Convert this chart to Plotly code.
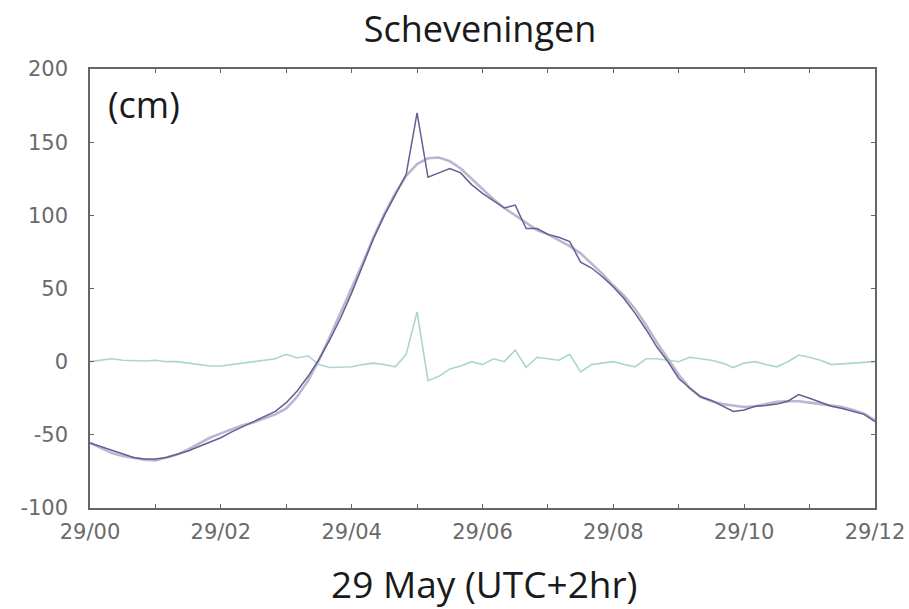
import plotly.graph_objects as go

# time in hours after 29 May 00:00 (10-minute steps)
hours = [k / 6 for k in range(73)]

observed = [-55.5, -58, -61, -63.5, -65.5, -66.5, -66.5, -65.5, -63.5, -61,
            -58, -55, -52, -48, -44.5, -41.5, -38, -34, -28, -20,
            -10, 1.5, 15, 30, 47, 65, 84, 100, 114, 128,
            170, 126, 129, 132, 129, 121, 115, 110, 105, 107,
            91, 91, 87, 85, 82, 68, 64, 58, 51, 43,
            33, 22, 10, 0, -11.5, -18, -24, -26.5, -30, -34,
            -33, -30.5, -30, -29, -27, -22.5, -25, -28, -30.5, -32,
            -34, -36, -41]

predicted = [-55.5, -59, -62.5, -64.5, -66, -67, -67.5, -65.5, -63.5, -60,
             -56, -52, -49, -46, -43.5, -41.5, -39, -36, -32, -24,
             -13, 1, 17, 33.5, 50.5, 67, 85, 101, 115, 127,
             135, 139, 139.5, 137, 132, 125, 118, 111, 105, 100,
             95, 90, 87, 83, 79, 74, 67, 60, 52, 45,
             36, 25, 13, 2, -9, -18, -24, -27, -29, -30,
             -31, -30.5, -29, -27.5, -27, -27, -28, -29, -29.5, -31,
             -33, -35.5, -40]

residual = [0, 1, 2, 1, 0.5, 0.5, 1, 0, 0, -1,
            -2, -3, -3, -2, -1, 0, 1, 2, 5, 2.5,
            4, -2, -4, -3.5, -3.5, -2, -1, -2, -3.5, 5,
            34, -13, -10, -5, -3, 0, -2, 2, 0, 8,
            -4, 3, 2, 1, 5, -7, -2, -1, 0, -2,
            -3.5, 2, 2, 1, 0, 3, 2, 1, -1, -4,
            -1, 0, -2, -3.5, 0, 4.5, 3, 1, -2, -1.5,
            -1, 0, 0]

tick_hours = [0, 2, 4, 6, 8, 10, 12]
tick_labels = ["29/00", "29/02", "29/04", "29/06", "29/08", "29/10", "29/12"]
y_ticks = [-100, -50, 0, 50, 100, 150, 200]
y_labels = ["-100", "-50", "0", "50", "100", "150", "200"]

fig = go.Figure()
fig.add_trace(go.Scatter(x=hours, y=residual, mode="lines",
                         line=dict(color="#a9d6cf", width=1.6), name="residual"))
fig.add_trace(go.Scatter(x=hours, y=predicted, mode="lines",
                         line=dict(color="#bdb6d0", width=2.6), name="predicted"))
fig.add_trace(go.Scatter(x=hours, y=observed, mode="lines",
                         line=dict(color="#6a5b92", width=1.5), name="observed"))

axis_common = dict(
    showline=True, linecolor="#666", linewidth=1.5, mirror="ticks",
    ticks="inside", ticklen=4, tickcolor="#666", showgrid=False, zeroline=False,
    automargin=False,
    tickfont=dict(family="DejaVu Sans", size=21, color="#6a6a6a"),
)
fig.update_xaxes(range=[0, 12], tickvals=tick_hours, ticktext=tick_labels,
                 ticklabelstandoff=4,
                 minor=dict(dtick=1, ticks="inside", ticklen=4, tickcolor="#666"),
                 **axis_common)
fig.update_yaxes(range=[-100, 200], tickvals=y_ticks, ticktext=y_labels,
                 ticklabelstandoff=16, **axis_common)

fig.update_layout(
    width=909, height=609,
    margin=dict(l=90, r=34, t=69, b=101),
    paper_bgcolor="white", plot_bgcolor="white",
    showlegend=False,
    title=dict(text="Scheveningen", x=0.528, xanchor="center", y=0.952, yanchor="middle",
               font=dict(family="Open Sans", size=36, color="#1a1a1a")),
    annotations=[
        dict(text="(cm)", xref="paper", yref="paper", x=0.021, y=0.918,
             xanchor="left", yanchor="middle", showarrow=False,
             font=dict(family="Open Sans", size=36, color="#1a1a1a")),
        dict(text="29 May (UTC+2hr)", xref="paper", yref="paper", x=0.503, y=-0.172,
             xanchor="center", yanchor="middle", showarrow=False,
             font=dict(family="Open Sans", size=37, color="#1a1a1a")),
    ],
)

fig.write_html("out.html")
